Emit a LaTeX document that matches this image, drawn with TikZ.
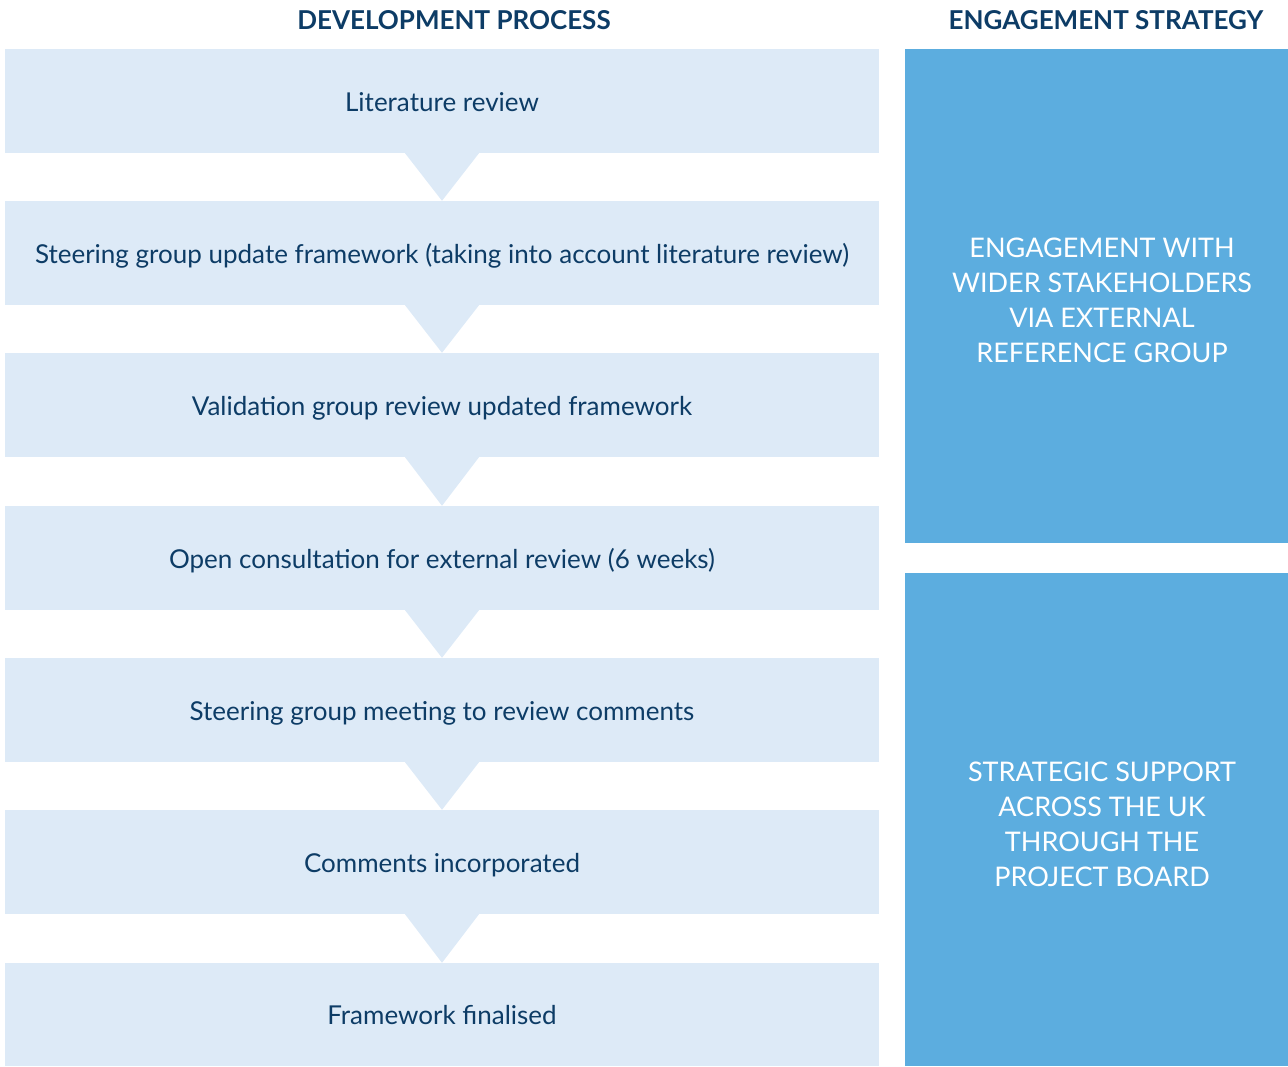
\documentclass[tikz,border=0pt]{standalone}
\usepackage{fontspec}
\setmainfont{Lato}
\usetikzlibrary{calc}
\definecolor{lightbox}{HTML}{DDEAF7}
\definecolor{darkbox}{HTML}{5CADDF}
\definecolor{navy}{HTML}{0D3C66}
\tikzset{
  stepbox/.style={fill=lightbox, minimum width=874pt, minimum height=104pt, inner sep=0pt, text=navy, text height=22pt, text depth=2pt, font=\fontsize{26}{30}\selectfont},
  engbox/.style={fill=darkbox, minimum width=383pt, inner sep=0pt},
  engtext/.style={text=white, align=center, font=\fontsize{27}{35}\selectfont},
  header/.style={text=navy, font=\bfseries\fontsize{26}{30}\selectfont},
  pointer/.style={fill=lightbox}
}
\begin{document}
\begin{tikzpicture}[x=1pt,y=-1pt]
\useasboundingbox (0,0) rectangle (1288,1066);
\node[header] (h1) at (454,20) {DEVELOPMENT PROCESS};
\node[header] (h2) at (1106,20) {ENGAGEMENT STRATEGY};
\node[stepbox] (s1) at (442,101) {Literature review};
\node[stepbox] (s2) at (442,253) {Steering group update framework (taking into account literature review)};
\node[stepbox] (s3) at (442,405) {Validation group review updated framework};
\node[stepbox] (s4) at (442,558) {Open consultation for external review (6 weeks)};
\node[stepbox] (s5) at (442,710) {Steering group meeting to review comments};
\node[stepbox] (s6) at (442,862) {Comments incorporated};
\node[stepbox, minimum height=103pt] (s7) at (442,1014.5) {Framework finalised};
\foreach \a/\b in {s1/s2,s2/s3,s3/s4,s4/s5,s5/s6,s6/s7}{
  \fill[pointer] ($(\a.south)+(-37,0)$) -- ($(\a.south)+(37,0)$) -- (\b.north) -- cycle;
}
\node[engbox, minimum height=494pt] (e1) at (1096.5,296) {};
\node[engtext] (t1) at (1102,300) {ENGAGEMENT WITH\\WIDER STAKEHOLDERS\\VIA EXTERNAL\\REFERENCE GROUP};
\node[engbox, minimum height=493pt] (e2) at (1096.5,819.5) {};
\node[engtext] (t2) at (1102,824) {STRATEGIC SUPPORT\\ACROSS THE UK\\THROUGH THE\\PROJECT BOARD};
\end{tikzpicture}
\end{document}
